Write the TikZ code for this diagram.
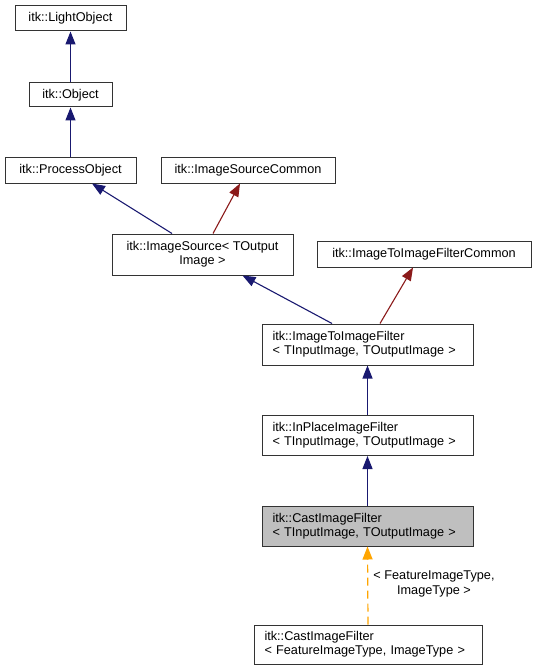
\documentclass[tikz,border=0pt]{standalone}
\usepackage{fontspec}
\setmainfont{Liberation Sans}
\usetikzlibrary{arrows.meta}
\definecolor{edgeblue}{HTML}{191970}
\definecolor{edgered}{HTML}{8B1A1A}
\definecolor{edgeorange}{HTML}{FFA500}
\definecolor{boxline}{HTML}{333333}
\definecolor{grayfill}{HTML}{BFBFBF}
\tikzset{
  cls/.style={draw=boxline, line width=1pt, inner sep=0pt, align=center,
    font=\fontsize{12.7}{14.3}\selectfont, fill=white},
  clsl/.style={cls, align=left, inner xsep=10.5pt, inner ysep=0pt},
  inh/.style={draw=edgeblue, line width=1.1pt, -{Triangle[length=13pt,width=10pt]}},
  inhr/.style={draw=edgered, line width=1.1pt, -{Triangle[length=13pt,width=10pt]}},
  tmpl/.style={draw=edgeorange, line width=1.2pt, dash pattern=on 8pt off 5pt, -{Triangle[length=13pt,width=10pt]}},
  lbl/.style={font=\fontsize{12.7}{14.3}\selectfont, align=center, inner sep=0pt}
}
\begin{document}
\begin{tikzpicture}[x=1pt,y=-1pt]
\useasboundingbox (0,0) rectangle (536,671);
\node[cls, minimum width=111pt, minimum height=25pt] (lo) at (70.5,18.5) {itk::LightObject};
\node[cls, minimum width=83pt, minimum height=24pt] (ob) at (70.5,95) {itk::Object};
\node[cls, minimum width=131pt, minimum height=25pt] (po) at (70.5,170.5) {itk::ProcessObject};
\node[cls, minimum width=174pt, minimum height=25pt] (isc) at (248,170.5) {itk::ImageSourceCommon};
\node[cls, minimum width=181pt, minimum height=41pt] (is) at (202.5,254.5) {itk::ImageSource< TOutput\\Image >};
\node[cls, minimum width=214pt, minimum height=26pt] (iifc) at (424,254) {itk::ImageToImageFilterCommon};
\node[clsl, text width=190pt, minimum height=41pt] (iif) at (367.5,344.5) {itk::ImageToImageFilter\\< TInputImage, TOutputImage >};
\node[clsl, text width=190pt, minimum height=40pt] (ipf) at (367.5,435.5) {itk::InPlaceImageFilter\\< TInputImage, TOutputImage >};
\node[clsl, text width=190pt, minimum height=40pt, fill=grayfill] (cif) at (367.5,526) {itk::CastImageFilter\\< TInputImage, TOutputImage >};
\node[clsl, text width=207pt, minimum height=39pt] (cft) at (368,644.5) {itk::CastImageFilter\\< FeatureImageType, ImageType >};

\draw[inh] (ob.north) -- (lo.south);
\draw[inh] (po.north) -- (ob.south);
\draw[inh] ([xshift=-30.5pt]is.north) -- ([xshift=21.5pt]po.south);
\draw[inhr] ([xshift=10.5pt]is.north) -- ([xshift=-8pt]isc.south);
\draw[inh] ([xshift=-35.5pt]iif.north) -- ([xshift=40pt]is.south);
\draw[inhr] ([xshift=12.5pt]iif.north) -- ([xshift=-11pt]iifc.south);
\draw[inh] (ipf.north) -- (iif.south);
\draw[inh] (cif.north) -- (ipf.south);
\draw[tmpl] (cft.north) -- (cif.south);
\node[lbl] (tl) at (434,584) {< FeatureImageType,\\ImageType >};
\end{tikzpicture}
\end{document}
